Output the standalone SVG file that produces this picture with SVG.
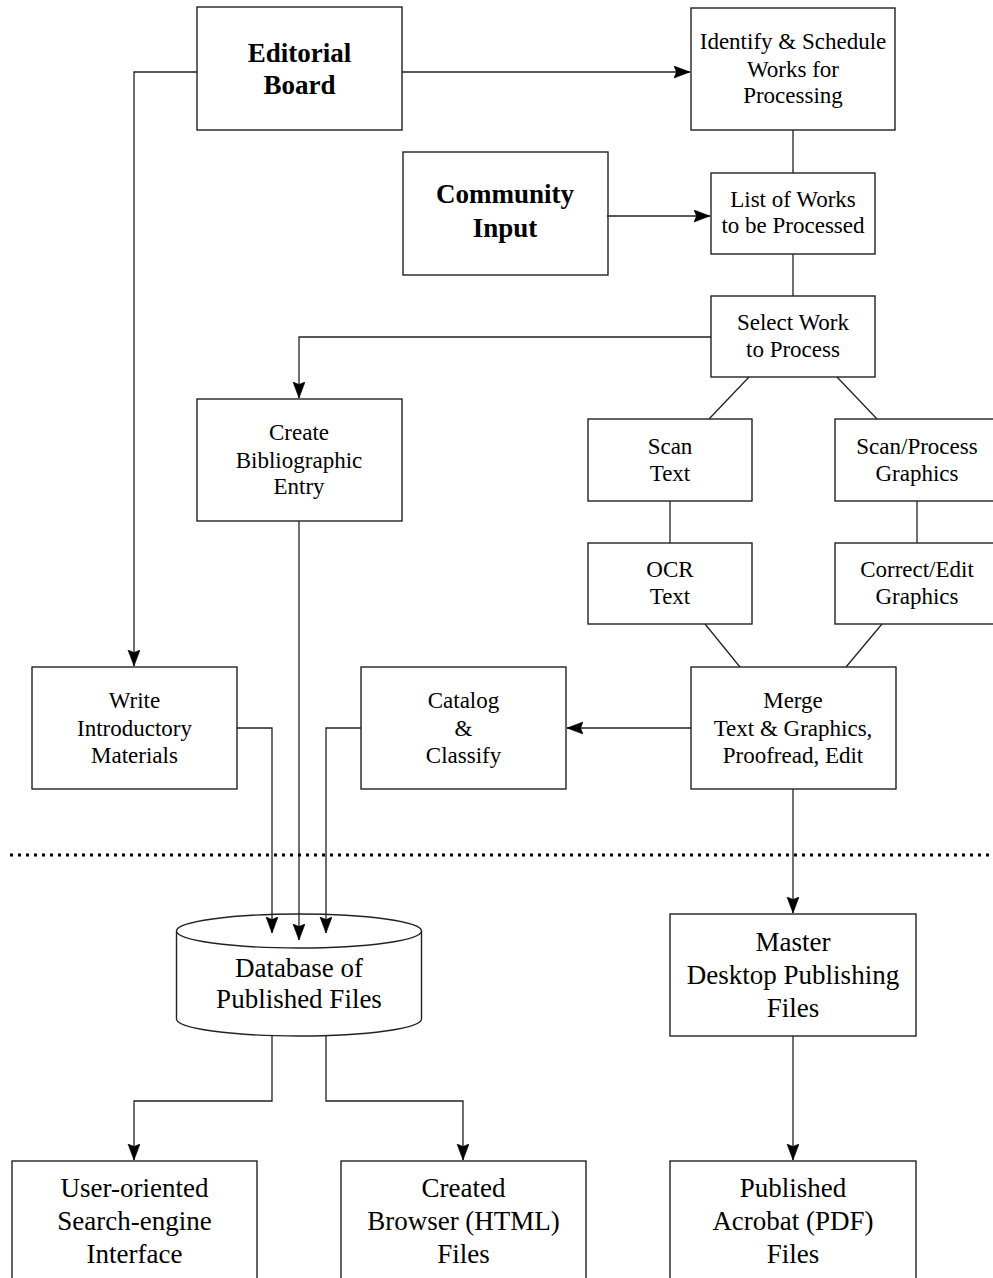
<svg xmlns="http://www.w3.org/2000/svg" width="993" height="1278" viewBox="0 0 993 1278">
<style>
  .box { fill: #fff; stroke: #222; stroke-width: 1.4; }
  .t { font-family: "Liberation Serif", "Times New Roman", serif; font-size: 23px; fill: #000; text-anchor: middle; }
  .tb { font-family: "Liberation Serif", "Times New Roman", serif; font-size: 27px; font-weight: bold; fill: #000; text-anchor: middle; }
  .tl { font-family: "Liberation Serif", "Times New Roman", serif; font-size: 27px; fill: #000; text-anchor: middle; }
  .c { fill: none; stroke: #222; stroke-width: 1.3; }
  .a { marker-end: url(#arr); }
  .dots { fill: none; stroke: #000; stroke-width: 3; stroke-dasharray: 3 5; }
</style>
<defs>
  <marker id="arr" markerUnits="userSpaceOnUse" markerWidth="18" markerHeight="14" refX="16" refY="6" orient="auto">
    <path d="M0,0 L16,6 L0,12 L2.5,6 z" fill="#000" stroke="#000" stroke-width="0.6"/>
  </marker>
</defs>
<rect width="993" height="1278" fill="#fff"/>

<g id="editorial-board">
  <rect class="box" x="197" y="7" width="205" height="123"/>
  <text class="tb" x="299.5" y="62">Editorial</text>
  <text class="tb" x="299.5" y="94">Board</text>
</g>

<g id="identify-schedule">
  <rect class="box" x="691" y="8" width="204" height="122"/>
  <text class="t" x="793" y="49">Identify &amp; Schedule</text>
  <text class="t" x="793" y="77">Works for</text>
  <text class="t" x="793" y="103">Processing</text>
</g>

<g id="community-input">
  <rect class="box" x="403" y="152" width="205" height="123"/>
  <text class="tb" x="505" y="203">Community</text>
  <text class="tb" x="505" y="237">Input</text>
</g>

<g id="list-of-works">
  <rect class="box" x="711" y="173" width="164" height="81"/>
  <text class="t" x="793" y="207">List of Works</text>
  <text class="t" x="793" y="233">to be Processed</text>
</g>

<g id="select-work">
  <rect class="box" x="711" y="296" width="164" height="81"/>
  <text class="t" x="793" y="330">Select Work</text>
  <text class="t" x="793" y="357">to Process</text>
</g>

<g id="create-bibliographic">
  <rect class="box" x="197" y="399" width="205" height="122"/>
  <text class="t" x="299" y="440">Create</text>
  <text class="t" x="299" y="468">Bibliographic</text>
  <text class="t" x="299" y="494">Entry</text>
</g>

<g id="scan-text">
  <rect class="box" x="588" y="419" width="164" height="82"/>
  <text class="t" x="670" y="454">Scan</text>
  <text class="t" x="670" y="481">Text</text>
</g>

<g id="scan-graphics">
  <rect class="box" x="835" y="419" width="164" height="82"/>
  <text class="t" x="917" y="454">Scan/Process</text>
  <text class="t" x="917" y="481">Graphics</text>
</g>

<g id="ocr-text">
  <rect class="box" x="588" y="543" width="164" height="81"/>
  <text class="t" x="670" y="577">OCR</text>
  <text class="t" x="670" y="604">Text</text>
</g>

<g id="correct-graphics">
  <rect class="box" x="835" y="543" width="164" height="81"/>
  <text class="t" x="917" y="577">Correct/Edit</text>
  <text class="t" x="917" y="604">Graphics</text>
</g>

<g id="write-introductory">
  <rect class="box" x="32" y="667" width="205" height="122"/>
  <text class="t" x="134.5" y="708">Write</text>
  <text class="t" x="134.5" y="736">Introductory</text>
  <text class="t" x="134.5" y="763">Materials</text>
</g>

<g id="catalog-classify">
  <rect class="box" x="361" y="667" width="205" height="122"/>
  <text class="t" x="463.5" y="708">Catalog</text>
  <text class="t" x="463.5" y="736">&amp;</text>
  <text class="t" x="463.5" y="763">Classify</text>
</g>

<g id="merge">
  <rect class="box" x="691" y="667" width="205" height="122"/>
  <text class="t" x="793" y="708">Merge</text>
  <text class="t" x="793" y="736">Text &amp; Graphics,</text>
  <text class="t" x="793" y="763">Proofread, Edit</text>
</g>

<g id="database">
  <path class="box" d="M176.5,931 V1019 A122.5,17 0 0 0 421.5,1019 V931"/>
  <ellipse class="box" cx="299" cy="931" rx="122.5" ry="17"/>
  <text class="tl" x="299" y="977">Database of</text>
  <text class="tl" x="299" y="1008">Published Files</text>
</g>

<g id="master-dtp">
  <rect class="box" x="670" y="914" width="246" height="122"/>
  <text class="tl" x="793" y="951">Master</text>
  <text class="tl" x="793" y="984">Desktop Publishing</text>
  <text class="tl" x="793" y="1017">Files</text>
</g>

<g id="search-interface">
  <rect class="box" x="12" y="1161" width="245" height="122"/>
  <text class="tl" x="134.5" y="1197">User-oriented</text>
  <text class="tl" x="134.5" y="1230">Search-engine</text>
  <text class="tl" x="134.5" y="1263">Interface</text>
</g>

<g id="html-files">
  <rect class="box" x="341" y="1161" width="245" height="122"/>
  <text class="tl" x="463.5" y="1197">Created</text>
  <text class="tl" x="463.5" y="1230">Browser (HTML)</text>
  <text class="tl" x="463.5" y="1263">Files</text>
</g>

<g id="pdf-files">
  <rect class="box" x="670" y="1161" width="246" height="122"/>
  <text class="tl" x="793" y="1197">Published</text>
  <text class="tl" x="793" y="1230">Acrobat (PDF)</text>
  <text class="tl" x="793" y="1263">Files</text>
</g>

<g id="connectors">
  <path class="c a" d="M402,72 H690"/>
  <path class="c a" d="M197,72 H134 V666"/>
  <path class="c" d="M793,130 V173"/>
  <path class="c a" d="M607,216 H710"/>
  <path class="c" d="M793,254 V296"/>
  <path class="c a" d="M711,337 H299 V398"/>
  <path class="c" d="M749,377 L709,419"/>
  <path class="c" d="M837,377 L877,419"/>
  <path class="c" d="M670,501 V543"/>
  <path class="c" d="M917,501 V543"/>
  <path class="c" d="M705,624 L740,667"/>
  <path class="c" d="M882,624 L846,667"/>
  <path class="c a" d="M691,728 H567"/>
  <path class="c a" d="M793,789 V913"/>
  <path class="c a" d="M237,728 H272 V933"/>
  <path class="c a" d="M299,521 V940"/>
  <path class="c a" d="M361,728 H326 V933"/>
  <path class="c a" d="M272,1036 V1101 H134 V1160"/>
  <path class="c a" d="M326,1036 V1101 H463 V1160"/>
  <path class="c a" d="M793,1036 V1160"/>
  <path class="dots" d="M10,855 H993"/>
</g>
</svg>
